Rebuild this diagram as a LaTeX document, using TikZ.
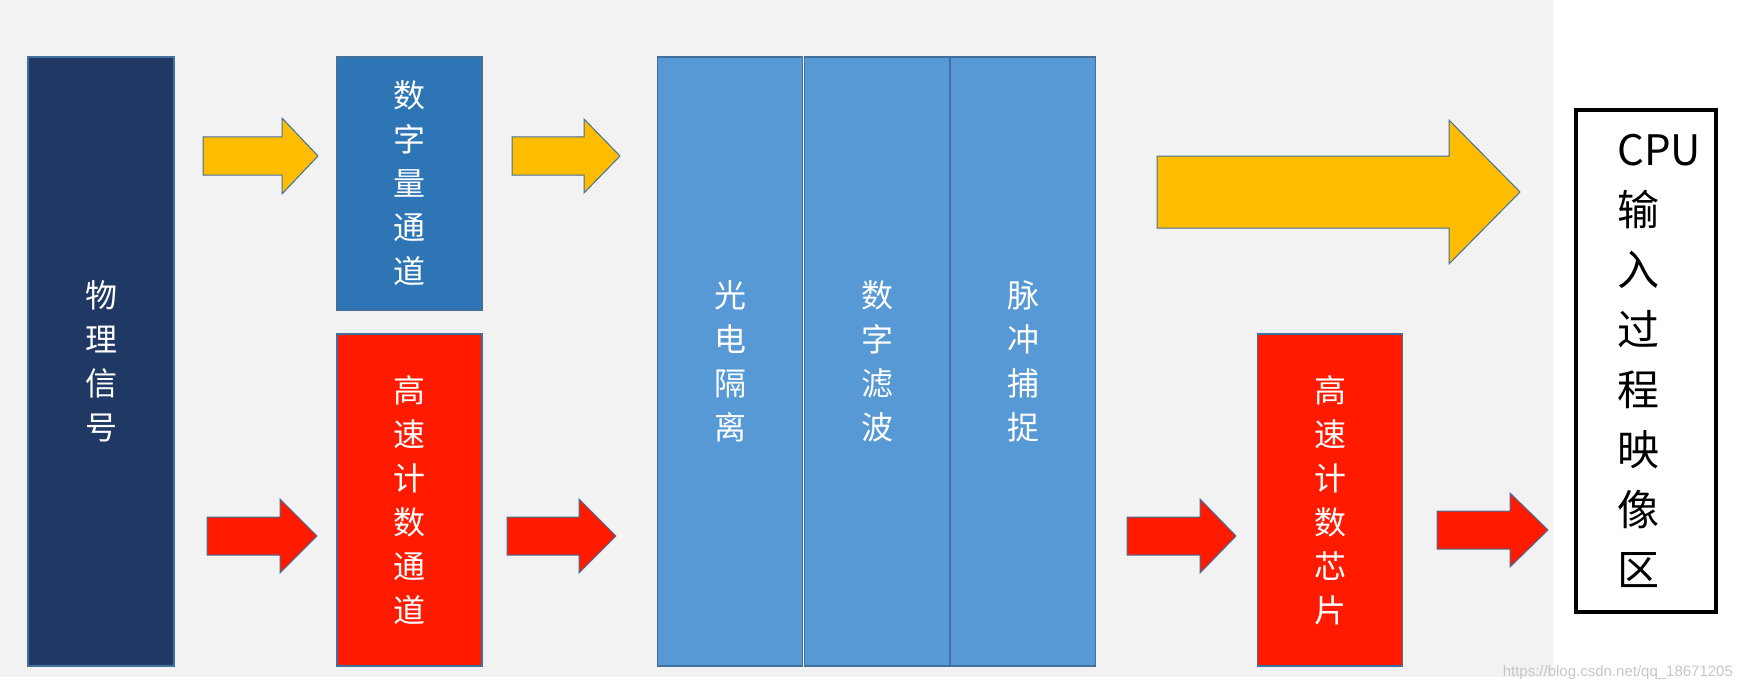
\documentclass[tikz,border=0pt]{standalone}
\usepackage{fontspec}
\newfontfamily\cjk{Noto Sans CJK SC}
\newfontfamily\wmfont{Liberation Sans}
\usetikzlibrary{calc,positioning}
\definecolor{bggrey}{HTML}{F2F2F2}
\definecolor{navy}{HTML}{1F3864}
\definecolor{chblue}{HTML}{2E75B6}
\definecolor{colblue}{HTML}{5699D5}
\definecolor{hsred}{HTML}{FF1A00}
\definecolor{arrowyellow}{HTML}{FFBC00}
\definecolor{edgeblue}{HTML}{41719C}
\tikzset{
  blk/.style={draw=edgeblue, line width=0.6pt, inner sep=0pt, minimum width=72.5pt,
    align=center, text=white, font=\cjk\fontsize{16}{22}\selectfont},
  yarrow/.style={fill=arrowyellow, draw=edgeblue, line width=0.5pt},
  rarrow/.style={fill=hsred, draw=edgeblue, line width=0.5pt},
}
% 粗箭头: 样式, 尾, 尖, 杆半宽, 头半宽, 头长
\newcommand{\fatarrow}[6]{%
  \draw[#1] ($(#2)+(0,#4)$) -- ($(#3)+(-#6,#4)$) -- ($(#3)+(-#6,#5)$) -- (#3)
    -- ($(#3)+(-#6,-#5)$) -- ($(#3)+(-#6,-#4)$) -- ($(#2)+(0,-#4)$) -- cycle;
}
\begin{document}
\begin{tikzpicture}[x=0.5pt, y=-0.5pt]
  % 背景
  \useasboundingbox (0,0) rectangle (1745,690);
  \fill[bggrey] (0,0) rectangle (1553,677);

  % 信号与通道
  \node[blk, fill=navy, minimum width=73pt, minimum height=304.5pt] (phys) at (101,361.5) {物\\理\\信\\号};
  \node[blk, fill=chblue, minimum height=126.5pt] (dig) at (409.5,183.5) {数\\字\\量\\通\\道};
  \node[blk, fill=hsred, minimum height=166pt] (hsc) at (409.5,500) {高\\速\\计\\数\\通\\道};

  % 三列处理
  \foreach \x/\name/\txt in {730/iso/{光\\电\\隔\\离}, 877/filt/{数\\字\\滤\\波}, 1023/pulse/{脉\\冲\\捕\\捉}} {
    \node[blk, fill=colblue, minimum height=304.5pt] (\name) at (\x,361.5) {\txt};
  }

  \node[blk, fill=hsred, minimum height=166pt] (chip) at (1330,500) {高\\速\\计\\数\\芯\\片};

  % CPU
  \node[draw=black, line width=2pt, fill=white, minimum width=70pt, minimum height=251pt] (cpu) at (1646,361) {};
  \node[anchor=west, inner sep=0pt, align=left, font=\cjk\fontsize{21}{30}\selectfont] (cputxt)
    at ($(cpu.west)+(43,0)$) {CPU\\输\\入\\过\\程\\映\\像\\区};

  % 箭头
  \coordinate (y1s) at (203,156);  \coordinate (y1e) at (318,156);
  \coordinate (y2s) at (512,156);  \coordinate (y2e) at (620,156);
  \coordinate (r1s) at (207,536);  \coordinate (r1e) at (317,536);
  \coordinate (r2s) at (507,536);  \coordinate (r2e) at (616,536);
  \coordinate (r3s) at (1127,536); \coordinate (r3e) at (1236,536);
  \coordinate (r4s) at (1437,530); \coordinate (r4e) at (1548,530);
  \coordinate (bys) at (1157,192); \coordinate (bye) at (1520,192);
  \fatarrow{yarrow}{y1s}{y1e}{19}{38}{36}
  \fatarrow{yarrow}{y2s}{y2e}{19}{37}{36}
  \fatarrow{rarrow}{r1s}{r1e}{19}{37}{37}
  \fatarrow{rarrow}{r2s}{r2e}{19}{37}{37}
  \fatarrow{rarrow}{r3s}{r3e}{19}{37}{36}
  \fatarrow{rarrow}{r4s}{r4e}{19}{37}{38}
  \fatarrow{yarrow}{bys}{bye}{36}{72}{71}

  % 水印
  \node[anchor=east, text=gray!45, font=\wmfont\fontsize{7.5}{9}\selectfont] (wm) at (1740,673) {https://blog.csdn.net/qq\_18671205};
\end{tikzpicture}
\end{document}
